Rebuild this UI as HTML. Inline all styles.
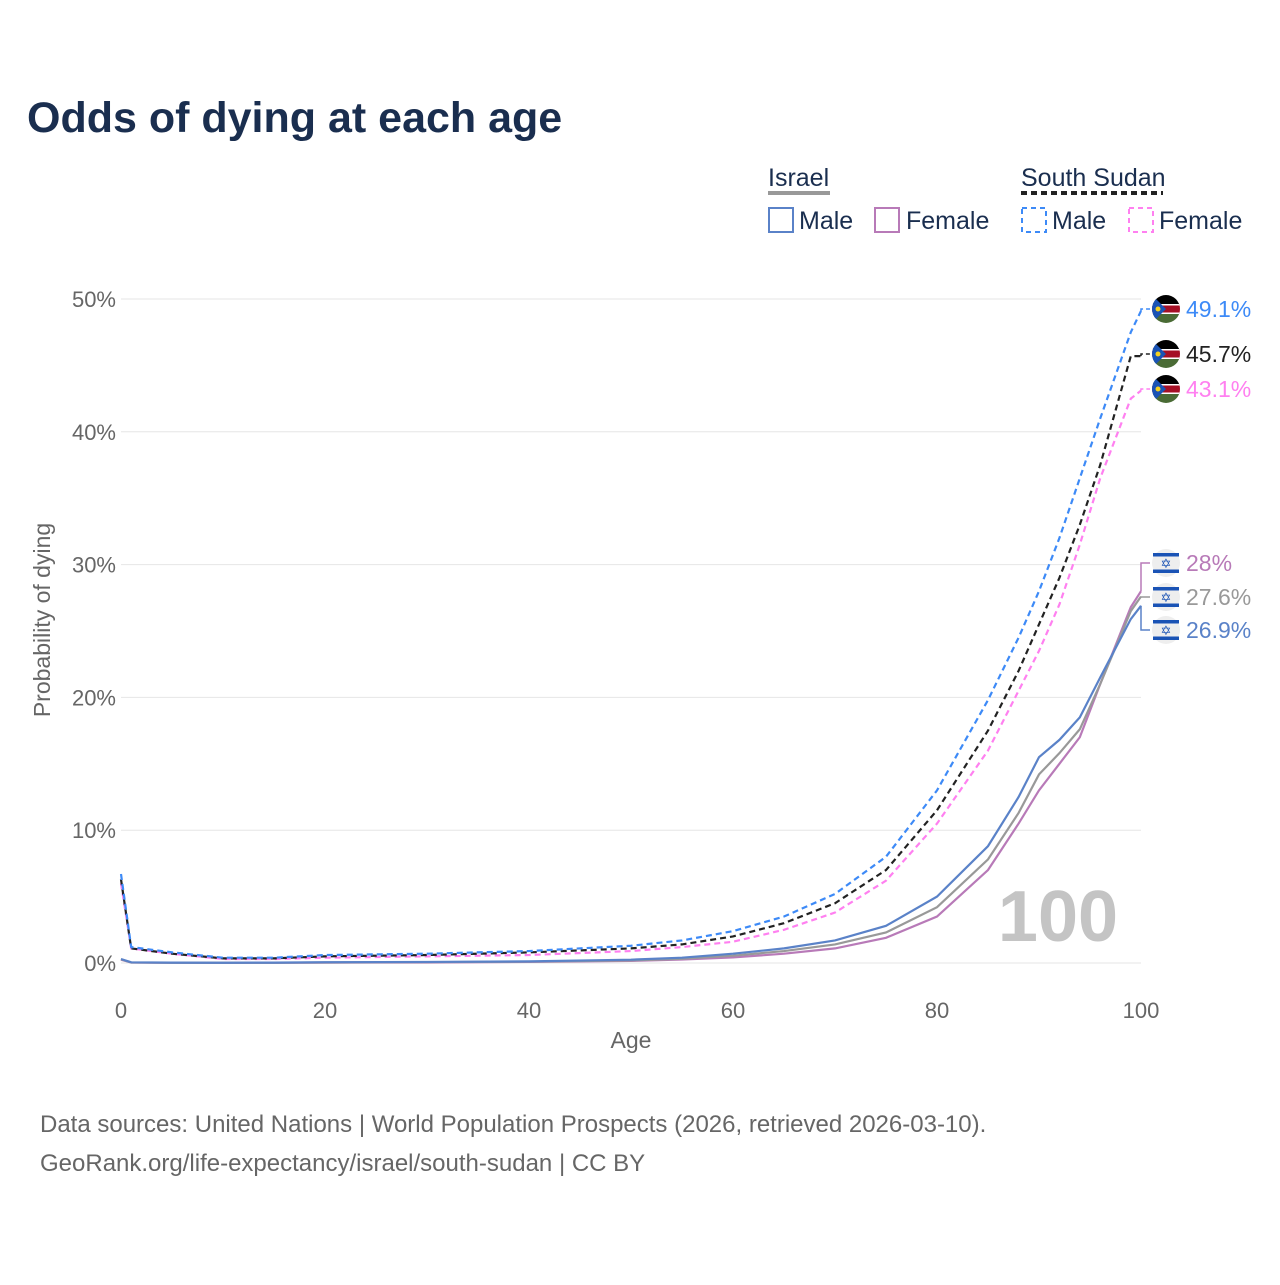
<!DOCTYPE html>
<html><head><meta charset="utf-8"><style>
body{margin:0;background:#fff;font-family:"Liberation Sans",sans-serif;}
svg text{font-family:"Liberation Sans",sans-serif;}
</style></head><body>
<svg id="c" width="1280" height="1280" xmlns="http://www.w3.org/2000/svg">
<text x="27" y="132" font-size="43" font-weight="bold" fill="#1a2e4f">Odds of dying at each age</text>
<g fill="#1a2e4f" font-size="25">
<text x="768" y="186">Israel</text>
<line x1="768" y1="193" x2="830" y2="193" stroke="#999" stroke-width="4"/>
<rect x="769" y="208" width="24" height="24" fill="none" stroke="#5a82c8" stroke-width="2"/>
<text x="799" y="229">Male</text>
<rect x="875" y="208" width="24" height="24" fill="none" stroke="#b87ab8" stroke-width="2"/>
<text x="906" y="229">Female</text>
<text x="1021" y="186">South Sudan</text>
<line x1="1021" y1="193" x2="1163" y2="193" stroke="#222" stroke-width="4" stroke-dasharray="6,4"/>
<rect x="1022" y="208" width="24" height="24" fill="none" stroke="#3d8af7" stroke-width="2" stroke-dasharray="5,4"/>
<text x="1052" y="229">Male</text>
<rect x="1129" y="208" width="24" height="24" fill="none" stroke="#ff80f0" stroke-width="2" stroke-dasharray="5,4"/>
<text x="1159" y="229">Female</text>
</g>
<g id="grid"></g>
<g id="series"></g>
<g id="labels"></g>
<text x="1058" y="941" font-size="72" font-weight="bold" fill="#c4c4c4" text-anchor="middle">100</text>
<text x="631" y="1048" font-size="23" fill="#666" text-anchor="middle">Age</text>
<text transform="translate(50,620) rotate(-90)" font-size="23" fill="#666" text-anchor="middle">Probability of dying</text>
<text x="40" y="1132" font-size="24" fill="#666">Data sources: United Nations | World Population Prospects (2026, retrieved 2026-03-10).</text>
<text x="40" y="1171" font-size="24" fill="#666">GeoRank.org/life-expectancy/israel/south-sudan | CC BY</text>
</svg>
<script>
const ages=[0,1,5,10,15,20,30,40,50,55,60,65,70,75,80,85,88,90,92,94,96,99,100];
const ssMale=[6.7,1.2,0.8,0.4,0.4,0.6,0.7,0.9,1.3,1.7,2.4,3.5,5.2,8.0,13.0,19.8,24.5,28.0,32.0,36.5,41.0,47.5,49.1];
const ssBoth=[6.3,1.1,0.7,0.35,0.35,0.5,0.6,0.8,1.1,1.4,2.0,3.0,4.5,7.0,11.5,17.5,22.0,25.5,29.0,33.0,37.5,45.7,45.7];
const ssFemale=[6.0,1.1,0.7,0.3,0.3,0.4,0.5,0.6,0.9,1.2,1.6,2.5,3.8,6.2,10.5,16.0,20.5,23.5,27.0,31.5,36.5,42.5,43.1];
const ilMale=[0.3,0.05,0.03,0.02,0.03,0.06,0.08,0.12,0.25,0.4,0.7,1.1,1.7,2.8,5.0,8.8,12.5,15.5,16.8,18.5,21.5,25.9,26.9];
const ilBoth=[0.28,0.04,0.02,0.02,0.02,0.04,0.06,0.1,0.2,0.32,0.55,0.9,1.4,2.3,4.2,7.8,11.3,14.2,15.8,17.6,21.0,26.5,27.6];
const ilFemale=[0.25,0.04,0.02,0.01,0.02,0.03,0.04,0.08,0.16,0.26,0.42,0.7,1.1,1.9,3.5,7.0,10.5,13.0,15.0,17.0,21.0,26.8,28.0];
const yTicks=[0,10,20,30,40,50];
const xTicks=[0,20,40,60,80,100];
const X=a=>121+a*10.2, Y=v=>963-v*13.28;
const NS='http://www.w3.org/2000/svg';
function mk(t,p,at){const e=document.createElementNS(NS,t);for(const k in at)e.setAttribute(k,at[k]);p.appendChild(e);return e;}
const grid=document.getElementById('grid');
yTicks.forEach(v=>{
 const l=mk('line',grid,{x1:121,x2:1141,y1:Y(v),y2:Y(v),stroke:'#e6e6e6','stroke-width':1});
 
 
 const t=mk('text',grid,{x:116,y:Y(v)+8,'font-size':22,fill:'#666','text-anchor':'end'});t.textContent=v+'%';
 
 
});
xTicks.forEach(a=>{
 const t=mk('text',grid,{x:X(a),y:1018,'font-size':22,fill:'#666','text-anchor':'middle'});t.textContent=a;
 
 
});
const S=document.getElementById('series');
const defs=[[ilFemale,'#b87ab8',null,'israel-female'],[ilBoth,'#999',null,'israel-both'],[ilMale,'#5a82c8',null,'israel-male'],
[ssFemale,'#ff80f0','6,4','south-sudan-female'],[ssBoth,'#222','6,4','south-sudan-both'],[ssMale,'#3d8af7','6,4','south-sudan-male']];
defs.forEach(([d,c,da,n])=>{
 const at={d:'M'+ages.map((a,i)=>X(a)+','+Y(d[i])).join('L'),fill:'none',stroke:c,'stroke-width':2.2};
 if(da)at['stroke-dasharray']=da;
 const p=mk('path',S,at);
 
 
});
const L=document.getElementById('labels');
function ssFlag(g,cx,cy){
 const cp='cp'+cx+cy;const d=mk('clipPath',g,{id:cp});mk('circle',d,{cx,cy,r:14});
 const f=mk('g',g,{'clip-path':'url(#'+cp+')'});
 mk('rect',f,{x:cx-14,y:cy-14,width:28,height:9,fill:'#000'});
 mk('rect',f,{x:cx-14,y:cy-5,width:28,height:10,fill:'#a50f25'});
 mk('rect',f,{x:cx-14,y:cy-5,width:28,height:1.5,fill:'#fff'});
 mk('rect',f,{x:cx-14,y:cy+3.5,width:28,height:1.5,fill:'#fff'});
 mk('rect',f,{x:cx-14,y:cy+5,width:28,height:9,fill:'#4a6b35'});
 mk('polygon',f,{points:`${cx-14},${cy-14} ${cx},${cy} ${cx-14},${cy+14}`,fill:'#1a53b5'});
 mk('circle',f,{cx:cx-8,cy:cy,r:2.5,fill:'#f5d020'});
}
function ilFlag(g,cx,cy){
 mk('circle',g,{cx,cy,r:14,fill:'#eee'});
 mk('rect',g,{x:cx-13,y:cy-10,width:26,height:3.5,fill:'#1a53b5'});
 mk('rect',g,{x:cx-13,y:cy+6.5,width:26,height:3.5,fill:'#1a53b5'});
 const t=mk('text',g,{x:cx,y:cy+5,'font-size':13,fill:'#1a53b5','text-anchor':'middle'});t.textContent='✡';
}
const lab=[[ssMale,'#3d8af7',309,'ss',true,'label-ss-male'],[ssBoth,'#222',354,'ss',true,'label-ss-both'],[ssFemale,'#ff80f0',389,'ss',true,'label-ss-female'],
[ilFemale,'#b87ab8',563,'il',false,'label-il-female'],[ilBoth,'#999',597,'il',false,'label-il-both'],[ilMale,'#5a82c8',630,'il',false,'label-il-male']];
lab.forEach(([d,c,ly,f,dash,n])=>{
 const g=mk('g',L,{});
 
 
 const v=d[d.length-1],y0=Y(v);
 const at={d:`M${X(100)},${y0}L${X(100)},${ly}L1150,${ly}`,fill:'none',stroke:c,'stroke-width':1.5};
 if(dash)at['stroke-dasharray']='4,3';
 mk('path',g,at);
 if(f==='ss')ssFlag(g,1166,ly);else ilFlag(g,1166,ly);
 const t=mk('text',g,{x:1186,y:ly+8,'font-size':23,fill:c});t.textContent=v+'%';
});
</script>
</body></html>
